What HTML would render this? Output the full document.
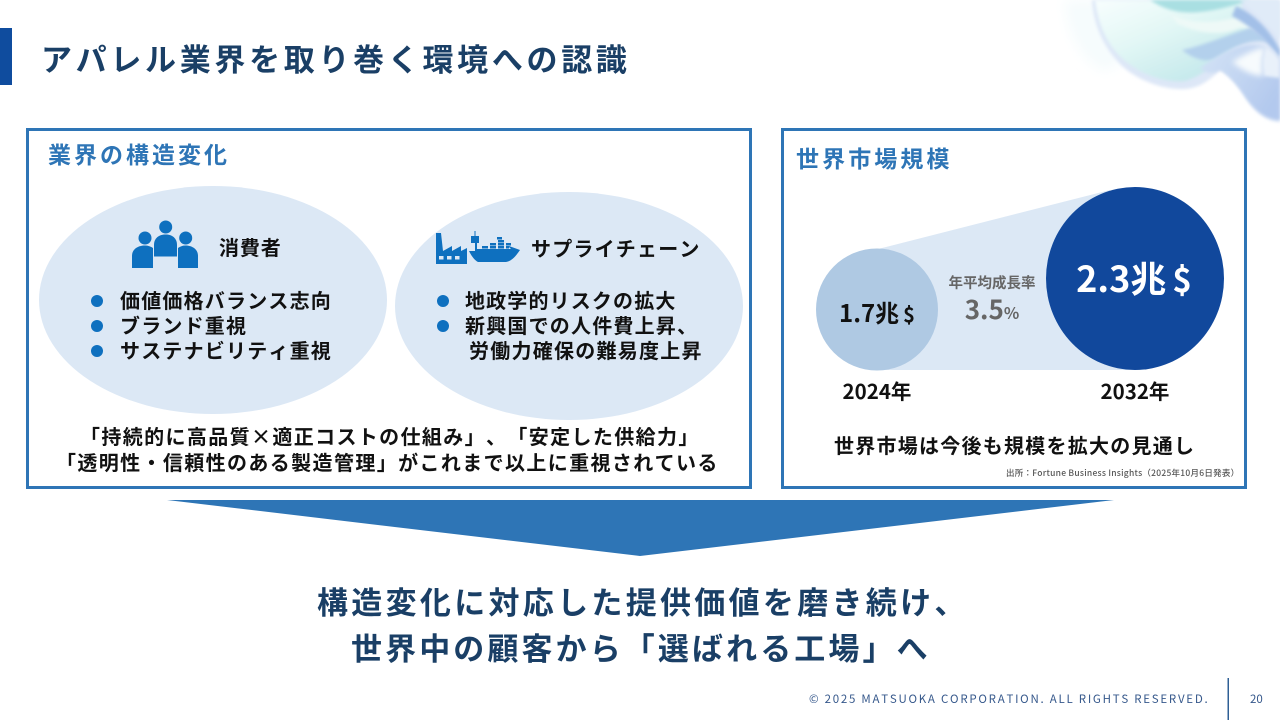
<!DOCTYPE html>
<html lang="ja"><head><meta charset="utf-8"><title>アパレル業界を取り巻く環境への認識</title>
<style>
html,body{margin:0;padding:0;background:#fff}
#s{position:relative;width:1280px;height:720px;overflow:hidden;background:#fff;font-family:"Liberation Sans","Noto Sans CJK JP",sans-serif}
.t{position:absolute;white-space:nowrap;font-family:"Noto Sans CJK JP","Liberation Sans",sans-serif;font-weight:700;color:#111;line-height:30px;height:30px;text-spacing-trim:space-all;font-kerning:none}
.c{text-align:center}
svg{position:absolute;left:0;top:0}
</style></head><body><div id="s">
<svg width="1280" height="720" viewBox="0 0 1280 720">
<defs>
<filter id="b0" x="-20%" y="-20%" width="140%" height="140%"><feGaussianBlur stdDeviation="1.500"/></filter>
<filter id="b1" x="-20%" y="-20%" width="140%" height="140%"><feGaussianBlur stdDeviation="3"/></filter>
<filter id="b2" x="-20%" y="-20%" width="140%" height="140%"><feGaussianBlur stdDeviation="6"/></filter>
<linearGradient id="g1" x1="0" y1="0" x2=".8" y2="1"><stop offset="0" stop-color="#f8fefe"/><stop offset=".45" stop-color="#e2f7f5"/><stop offset="1" stop-color="#bfe6ea"/></linearGradient>
<linearGradient id="g2" x1="0" y1="0" x2="1" y2=".6"><stop offset="0" stop-color="#d5e4f6"/><stop offset="1" stop-color="#b3c9ee"/></linearGradient>
</defs>
<g>
<path d="M1064 0C1066 30 1078 60 1105 72L1125 60L1100 0Z" fill="#f6fcfd" filter="url(#b2)"/>
<path d="M1092 0C1094 25 1103 47 1122 66C1140 82 1165 90 1185 89C1198 88 1208 82 1220 70C1228 74 1238 84 1246 98C1256 114 1268 122 1280 122V0Z" fill="#dde7f7" filter="url(#b0)"/>
<path d="M1095 0C1098 24 1106 44 1124 60C1142 75 1165 83 1185 81C1200 77 1212 66 1228 52L1248 30L1240 0Z" fill="url(#g1)" filter="url(#b0)"/>
<path d="M1150 0C1165 10 1180 14 1200 12C1220 10 1235 5 1250 0Z" fill="#a9dfe2" filter="url(#b0)"/>
<path d="M1170 14C1190 24 1215 24 1240 16L1262 30L1240 28C1222 36 1200 34 1178 24Z" fill="#eef9f7" filter="url(#b0)"/>
<path d="M1182 50C1202 46 1225 36 1250 28C1256 31 1262 36 1268 42C1252 38 1234 46 1218 58C1206 64 1192 58 1182 50Z" fill="#b3d0ec" filter="url(#b0)"/>
<path d="M1200 68C1222 52 1240 42 1262 46C1270 50 1276 54 1280 60V120C1268 120 1256 112 1246 98C1238 86 1230 76 1220 70C1214 74 1206 74 1200 68Z" fill="url(#g2)" filter="url(#b0)"/>
<path d="M1240 0C1254 12 1268 24 1280 40V0Z" fill="#e0ebf8" filter="url(#b0)"/>
<path d="M1236 6C1254 14 1270 30 1280 50V58C1268 42 1254 28 1232 16Z" fill="#a3c0e8" filter="url(#b0)"/>
<path d="M1232 62C1245 54 1256 48 1266 47C1262 56 1262 66 1263 76C1252 76 1242 70 1232 62Z" fill="#f7fbfd" filter="url(#b1)"/>
<path d="M1266 47C1272 50 1276 54 1280 60V78L1264 76C1262 66 1262 56 1266 47Z" fill="#e9f1fa" filter="url(#b0)"/>
</g>
<rect x="0" y="28" width="12" height="57" fill="#0f4c9e"/>
<rect x="27.500" y="129.500" width="723" height="358" fill="#fff" stroke="#2e75b6" stroke-width="3"/>
<rect x="782.500" y="129.500" width="463" height="358" fill="#fff" stroke="#2e75b6" stroke-width="3"/>
<ellipse cx="213" cy="300" rx="174" ry="114" fill="#dce8f5"/>
<ellipse cx="569" cy="306" rx="174" ry="114" fill="#dce8f5"/>
<polygon points="880,248.500 1110,190 1135,370 877,370" fill="#dce8f5"/>
<circle cx="877" cy="309.500" r="61" fill="#afc9e3"/>
<ellipse cx="1135" cy="278.500" rx="89" ry="91.500" fill="#11489c"/>
<polygon points="167,500 1114,500 640,556" fill="#2e75b6"/>
<rect x="1227.500" y="678" width="1.500" height="42" fill="#2f5f95"/>
<g fill="#0e70bf">
<circle cx="145" cy="238" r="6.500"/><circle cx="185.700" cy="238" r="6.500"/><circle cx="165.700" cy="227" r="6.500"/>
<path d="M132 268V256C132 249 138 245.500 145 245.500C148 245.500 151 246.500 153 248V268Z"/>
<path d="M198 268V256C198 249 192 245.500 185.500 245.500C182.500 245.500 180 246.500 178 248V268Z"/>
<path d="M154 256.500V245C154 238 159 234.500 165.700 234.500C172 234.500 177 238 177 245V256.500Z"/>
<rect x="156" y="257" width="21" height="11" fill="#dce8f5"/>
</g>
<g fill="#0e70bf">
<path d="M436 264V233H441L443 251L452 246V251L461 246V251L467 248V264Z"/>
<rect x="439" y="256" width="4.500" height="3.500" fill="#dce8f5"/><rect x="447" y="256" width="4.500" height="3.500" fill="#dce8f5"/><rect x="455" y="256" width="4.500" height="3.500" fill="#dce8f5"/>
<path d="M469 251H475V243H471V236H474.500V231H475.500V236H479V243H477V249H511L508 246H509L520 250C516 256 511 262 505 262H478C474 260 471 255 469 251Z"/>
<rect x="482" y="246" width="6" height="2.500"/><rect x="490" y="243" width="6" height="2.500"/><rect x="490" y="246" width="6" height="2.500"/><rect x="498" y="240" width="6" height="2.500"/><rect x="498" y="243" width="6" height="2.500"/><rect x="498" y="246" width="6" height="2.500"/><rect x="497" y="237" width="5" height="2.500"/><rect x="506" y="243" width="5" height="2.500"/><rect x="506" y="246" width="3" height="2.500"/>
<circle cx="97" cy="301" r="6"/><circle cx="97" cy="326" r="6"/><circle cx="97" cy="351" r="6"/>
<circle cx="443" cy="301" r="6"/><circle cx="443" cy="326" r="6"/>
</g>
</svg>

<div class="t" style="left:41px;top:38px;height:40px;line-height:40px;font-size:31px;letter-spacing:3.680px;color:#1a3f66;">アパレル業界を取り巻く環境への認識</div>
<div class="t" style="left:48px;top:138px;font-size:23px;letter-spacing:3px;color:#2e75b6;">業界の構造変化</div>
<div class="t" style="left:796px;top:142px;font-size:23px;letter-spacing:3.100px;color:#2e75b6;">世界市場規模</div>

<div class="t" style="left:219px;top:232px;font-size:20px;letter-spacing:.9px;">消費者</div>
<div class="t" style="left:531px;top:233px;font-size:20px;letter-spacing:1.200px;">サプライチェーン</div>
<div class="t" style="left:120px;top:285px;font-size:20px;letter-spacing:1.200px;">価値価格バランス志向</div>
<div class="t" style="left:120px;top:310px;font-size:20px;letter-spacing:1.200px;">ブランド重視</div>
<div class="t" style="left:120px;top:335px;font-size:20px;letter-spacing:1.200px;">サステナビリティ重視</div>
<div class="t" style="left:465px;top:285px;font-size:20px;letter-spacing:1.150px;">地政学的リスクの拡大</div>
<div class="t" style="left:465px;top:310px;font-size:20px;letter-spacing:1.200px;">新興国での人件費上昇、</div>
<div class="t" style="left:469px;top:335px;font-size:20px;letter-spacing:1.250px;">労働力確保の難易度上昇</div>
<div class="t" style="left:80px;top:421px;font-size:20px;letter-spacing:1.370px;">「持続的に高品質×適正コストの仕組み」、「安定した供給力」</div>
<div class="t" style="left:56px;top:447px;font-size:20px;letter-spacing:1.380px;">「透明性・信頼性のある製造管理」がこれまで以上に重視されている</div>

<div class="t c" style="left:777px;width:200px;top:297px;font-size:24px;">1.7兆<span style="font-size:20px;margin-left:4px;">$</span></div>
<div class="t c" style="left:1034px;width:200px;top:262px;font-size:36px;color:#fff;">2.3兆<span style="font-size:33px;margin-left:6px;">$</span></div>
<div class="t c" style="left:892px;width:200px;top:268px;font-size:14.500px;color:#666;">年平均成長率</div>
<div class="t c" style="left:892px;width:200px;top:294px;font-size:26px;color:#666;">3.5<span style="font-size:16px;">%</span></div>
<div class="t c" style="left:777px;width:200px;top:375px;font-size:20.500px;">2024年</div>
<div class="t c" style="left:1035px;width:200px;top:375px;font-size:20.500px;">2032年</div>
<div class="t" style="left:834px;top:430px;font-size:20px;letter-spacing:1.250px;">世界市場は今後も規模を拡大の見通し</div>
<div class="t" style="left:1006px;top:458px;font-size:8.500px;font-weight:500;color:#555;letter-spacing:.25px;">出所：Fortune Business Insights（2025年10月6日発表）</div>

<div class="t" style="left:317px;top:581px;height:40px;line-height:40px;font-size:31px;letter-spacing:3.300px;color:#1a3f66;">構造変化に対応した提供価値を磨き続け、</div>
<div class="t" style="left:351px;top:627px;height:40px;line-height:40px;font-size:31px;letter-spacing:3.100px;color:#1a3f66;">世界中の顧客から「選ばれる工場」へ</div>

<div class="t" style="left:809px;top:684px;font-size:11.500px;font-weight:400;letter-spacing:1.740px;color:#37598c;">© 2025 MATSUOKA CORPORATION. ALL RIGHTS RESERVED.</div>
<div class="t" style="left:1250px;top:684px;font-size:11.500px;font-weight:400;color:#37598c;">20</div>
</div></body></html>
